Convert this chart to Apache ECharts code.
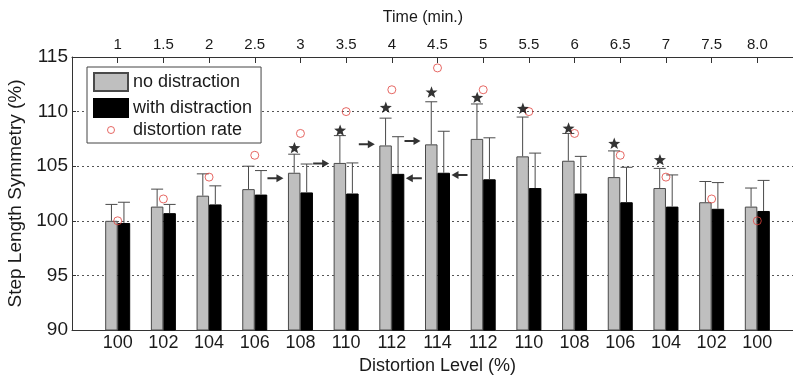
<!DOCTYPE html>
<html>
<head>
  <meta charset="utf-8">
  <title>Step length symmetry</title>
  <script src="https://cdn.jsdelivr.net/npm/echarts/dist/echarts.min.js"></script>
  <style>
    html, body { margin: 0; padding: 0; background: #fff; }
    #main { width: 793px; height: 375px; }
  </style>
</head>
<body>
<div id="main"></div>
<script>
  // distortion level per block, and the matching time (min.) on the top axis
  const distortionLevels = ['100', '102', '104', '106', '108', '110', '112', '114', '112', '110', '108', '106', '104', '102', '100'];
  const timeLabels = ['1', '1.5', '2', '2.5', '3', '3.5', '4', '4.5', '5', '5.5', '6', '6.5', '7', '7.5', '8.0'];

  const noDistraction = [100.0, 101.3, 102.3, 102.9, 104.4, 105.3, 106.9, 107.0, 107.5, 105.9, 105.5, 104.0, 103.0, 101.7, 101.3];
  const noDistractionSD = [1.5, 1.6, 2.0, 2.1, 1.7, 2.5, 2.5, 3.9, 3.2, 3.6, 2.5, 2.4, 1.8, 1.9, 1.7];
  const withDistraction = [99.8, 100.7, 101.5, 102.4, 102.6, 102.5, 104.3, 104.4, 103.8, 103.0, 102.5, 101.7, 101.3, 101.1, 100.9];
  const withDistractionSD = [1.9, 0.8, 1.7, 2.2, 2.6, 2.8, 3.4, 3.8, 3.8, 3.2, 3.4, 3.2, 2.9, 2.4, 2.8];
  const distortionRate = [100, 102, 104, 106, 108, 110, 112, 114, 112, 110, 108, 106, 104, 102, 100];

  // significance stars and the arrow markers
  const stars = [null, null, null, null, 106.7, 108.3, 110.4, 111.8, 111.3, 110.3, 108.5, 107.1, 105.6, null, null];
  const arrowsRight = [null, null, null, null, 103.9, 105.25, 107.0, 107.3, null, null, null, null, null, null, null];
  const arrowsLeft = [null, null, null, null, null, null, 103.9, 104.2, null, null, null, null, null, null, null];

  const FONT = '"Liberation Sans", Arial, sans-serif';
  const pad = a => [null].concat(a, [null]);
  const padCat = a => [''].concat(a, ['']);

  function starPath(n, r0, r1) {
    let d = '';
    for (let k = 0; k < 2 * n; k++) {
      const r = k % 2 ? r1 : r0;
      const a = -Math.PI / 2 + k * Math.PI / n;
      d += (k ? 'L' : 'M') + (r * Math.cos(a)).toFixed(3) + ',' + (r * Math.sin(a)).toFixed(3) + ' ';
    }
    return 'path://' + d + 'Z';
  }

  function errorSeries(means, sds, offset) {
    return {
      type: 'custom',
      z: 3,
      silent: true,
      encode: { x: 0, y: [1, 2] },
      data: means.map((m, i) => [i + 1, m, m + sds[i]]),
      renderItem: function (params, api) {
        const idx = api.value(0);
        const lo = api.coord([idx, api.value(1)]);
        const hi = api.coord([idx, api.value(2)]);
        const cx = lo[0] + offset;
        const st = { stroke: '#4a4a4a', lineWidth: 1 };
        return {
          type: 'group',
          children: [
            { type: 'line', shape: { x1: cx, y1: lo[1], x2: cx, y2: hi[1] }, style: st },
            { type: 'line', shape: { x1: cx - 6, y1: hi[1], x2: cx + 6, y2: hi[1] }, style: st }
          ]
        };
      }
    };
  }

  const chart = echarts.init(document.getElementById('main'));

  const option = {
    animation: false,
    backgroundColor: '#fff',
    textStyle: { fontFamily: FONT },
    legend: [
      {
        data: ['no distraction', 'with distraction'],
        orient: 'vertical',
        left: 87,
        top: 67,
        padding: [5, 9, 25, 6],
        icon: 'rect',
        itemWidth: 34,
        itemHeight: 18,
        itemGap: 6,
        borderColor: '#444',
        borderWidth: 1,
        borderRadius: 0,
        backgroundColor: '#fff',
        selectedMode: false,
        textStyle: { fontSize: 18, color: '#1a1a1a', fontFamily: FONT }
      },
      {
        data: ['distortion rate'],
        left: 107,
        top: 121,
        padding: 0,
        z: 6,
        itemWidth: 34,
        itemHeight: 7,
        selectedMode: false,
        itemStyle: { color: 'transparent', borderColor: '#e0443e', borderWidth: 1 },
        textStyle: { fontSize: 18, color: '#1a1a1a', fontFamily: FONT }
      }
    ],
    grid: { left: 72, right: -10, top: 57, bottom: 45, outerBoundsMode: 'none' },
    xAxis: [
      {
        type: 'category',
        position: 'bottom',
        data: padCat(distortionLevels),
        boundaryGap: false,
        name: 'Distortion Level (%)',
        nameLocation: 'middle',
        nameGap: 23,
        nameTextStyle: { fontSize: 18, color: '#1a1a1a' },
        axisLine: { lineStyle: { color: '#333' } },
        axisTick: { show: false },
        axisLabel: { fontSize: 18, color: '#1a1a1a', margin: 4, interval: 0 }
      },
      {
        type: 'category',
        position: 'top',
        data: padCat(timeLabels),
        boundaryGap: false,
        name: 'Time (min.)',
        nameLocation: 'middle',
        nameGap: 31,
        nameTextStyle: { fontSize: 16, color: '#1a1a1a', padding: [0, 29, 0, 0] },
        axisLine: { lineStyle: { color: '#333' } },
        axisTick: {
          inside: true,
          length: 6,
          lineStyle: { color: '#333' },
          interval: (i, v) => v !== ''
        },
        axisLabel: { fontSize: 15, color: '#1a1a1a', margin: 5, interval: 0 }
      }
    ],
    yAxis: {
      type: 'value',
      min: 90,
      max: 115,
      interval: 5,
      name: 'Step Length Symmetry (%)',
      nameLocation: 'middle',
      nameGap: 38,
      nameTextStyle: { fontSize: 19, color: '#1a1a1a' },
      axisLine: { show: true, lineStyle: { color: '#333' } },
      axisTick: { show: true, inside: true, length: 4, lineStyle: { color: '#333' } },
      axisLabel: { fontSize: 19, color: '#1a1a1a', margin: 4 },
      splitLine: { show: true, lineStyle: { color: '#555', type: [2, 3], width: 1 } }
    },
    series: [
      {
        name: 'no distraction',
        type: 'bar',
        data: pad(noDistraction),
        barWidth: 12.5,
        barGap: '0%',
        z: 2,
        itemStyle: { color: '#bfbfbf', borderColor: '#4a4a4a', borderWidth: 1 }
      },
      {
        name: 'with distraction',
        type: 'bar',
        data: pad(withDistraction),
        barWidth: 12.5,
        barGap: '0%',
        z: 2,
        itemStyle: { color: '#000', borderColor: '#000', borderWidth: 1 }
      },
      errorSeries(noDistraction, noDistractionSD, -6.25),
      errorSeries(withDistraction, withDistractionSD, 6.25),
      {
        name: 'distortion rate',
        type: 'scatter',
        data: pad(distortionRate),
        symbol: 'circle',
        symbolSize: 8,
        z: 5,
        itemStyle: { color: 'transparent', borderColor: '#e0443e', borderWidth: 1 }
      },
      {
        name: 'significant',
        type: 'scatter',
        data: pad(stars),
        symbol: starPath(5, 1, 0.42),
        symbolKeepAspect: true,
        symbolSize: 12,
        symbolOffset: [-6, 0],
        z: 5,
        itemStyle: { color: '#000' }
      },
      {
        name: 'arrow right',
        type: 'scatter',
        data: pad(arrowsRight),
        symbol: 'path://M0,3 L9,3 L9,0 L16,4 L9,8 L9,5 L0,5 Z',
        symbolSize: [16, 8],
        symbolOffset: [-25, 0],
        z: 5,
        itemStyle: { color: '#000' }
      },
      {
        name: 'arrow left',
        type: 'scatter',
        data: pad(arrowsLeft),
        symbol: 'path://M16,3 L7,3 L7,0 L0,4 L7,8 L7,5 L16,5 Z',
        symbolSize: [16, 8],
        symbolOffset: [22, 0],
        z: 5,
        itemStyle: { color: '#000' }
      }
    ]
  };

  chart.setOption(option);
</script>
</body>
</html>
